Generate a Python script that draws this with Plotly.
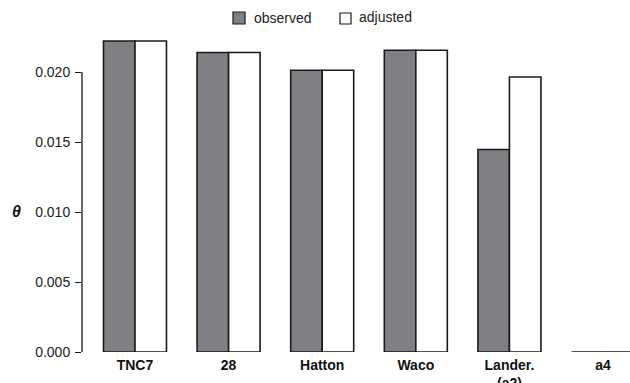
import plotly.graph_objects as go

categories = ["TNC7", "28", "Hatton", "Waco", "Lander.<br>(a2)", "a4"]
observed = [0.02221, 0.02139, 0.02012, 0.02155, 0.01446, 0.0]
adjusted = [0.02221, 0.02139, 0.02012, 0.02155, 0.01964, 0.0]
ytick_vals = [0.0, 0.005, 0.010, 0.015, 0.020]
ytick_text = ["0.000", "0.005", "0.010", "0.015", "0.020"]

FONT = "Liberation Sans, Arial, Helvetica, sans-serif"
GRAY = "#7f8083"
EDGE = "#1a1a1a"

W, H = 630, 383
ML, MR, MT, MB = 82, 0, 30, 31
PW, PH = W - ML - MR, H - MT - MB

fig = go.Figure()
fig.add_trace(go.Bar(x=categories, y=observed, name="observed",
                     marker=dict(color=GRAY, line=dict(color=EDGE, width=1.6)),
                     showlegend=False))
fig.add_trace(go.Bar(x=categories, y=adjusted, name="adjusted",
                     marker=dict(color="white", line=dict(color=EDGE, width=1.6)),
                     showlegend=False))

def px_x(p):
    return (p - ML) / PW

def px_y(p):
    return (H - MB - p) / PH

shapes = [
    # range-frame y axis line from 0 to 0.020
    dict(type="line", xref="paper", yref="y", x0=0, x1=0, y0=0, y1=0.020,
         line=dict(color=EDGE, width=1.3)),
    # legend swatches
    dict(type="rect", xref="paper", yref="paper",
         x0=px_x(233), x1=px_x(245), y0=px_y(24), y1=px_y(12),
         fillcolor=GRAY, line=dict(color=EDGE, width=1.2)),
    dict(type="rect", xref="paper", yref="paper",
         x0=px_x(340), x1=px_x(351), y0=px_y(24), y1=px_y(13),
         fillcolor="white", line=dict(color=EDGE, width=1.2)),
]

annotations = [
    dict(text="observed", xref="paper", yref="paper", x=px_x(252), y=px_y(18),
         xanchor="left", yanchor="middle", showarrow=False,
         font=dict(family=FONT, size=14, color="#222")),
    dict(text="adjusted", xref="paper", yref="paper", x=px_x(357), y=px_y(17),
         xanchor="left", yanchor="middle", showarrow=False,
         font=dict(family=FONT, size=14, color="#222")),
    dict(text="<b><i>θ</i></b>", xref="paper", yref="paper", x=px_x(16), y=px_y(211),
         xanchor="center", yanchor="middle", showarrow=False,
         font=dict(family=FONT, size=16, color="#111")),
]

fig.update_layout(
    width=W, height=H,
    margin=dict(l=ML, r=MR, t=MT, b=MB, autoexpand=False),
    paper_bgcolor="white", plot_bgcolor="white",
    barmode="group", bargap=0.327, bargroupgap=0,
    font=dict(family=FONT, size=14, color="#222"),
    shapes=shapes, annotations=annotations,
    xaxis=dict(range=[-0.566, 5.288], showgrid=False, zeroline=False,
               showline=False, ticks="", automargin=False, ticklabelstandoff=3,
               tickfont=dict(family=FONT, size=14, color="#111", weight="bold")),
    yaxis=dict(range=[0, PH / 14000], showgrid=False, zeroline=False,
               showline=False, ticks="outside", ticklen=6, tickwidth=1.3,
               tickcolor=EDGE, tickvals=ytick_vals, ticktext=ytick_text,
               automargin=False, ticklabelstandoff=2,
               tickfont=dict(family=FONT, size=14, color="#222")),
)

fig.write_html("out.html",
               config={"displayModeBar": False},
               post_script="document.body.style.margin='0';document.body.style.overflow='hidden';")
